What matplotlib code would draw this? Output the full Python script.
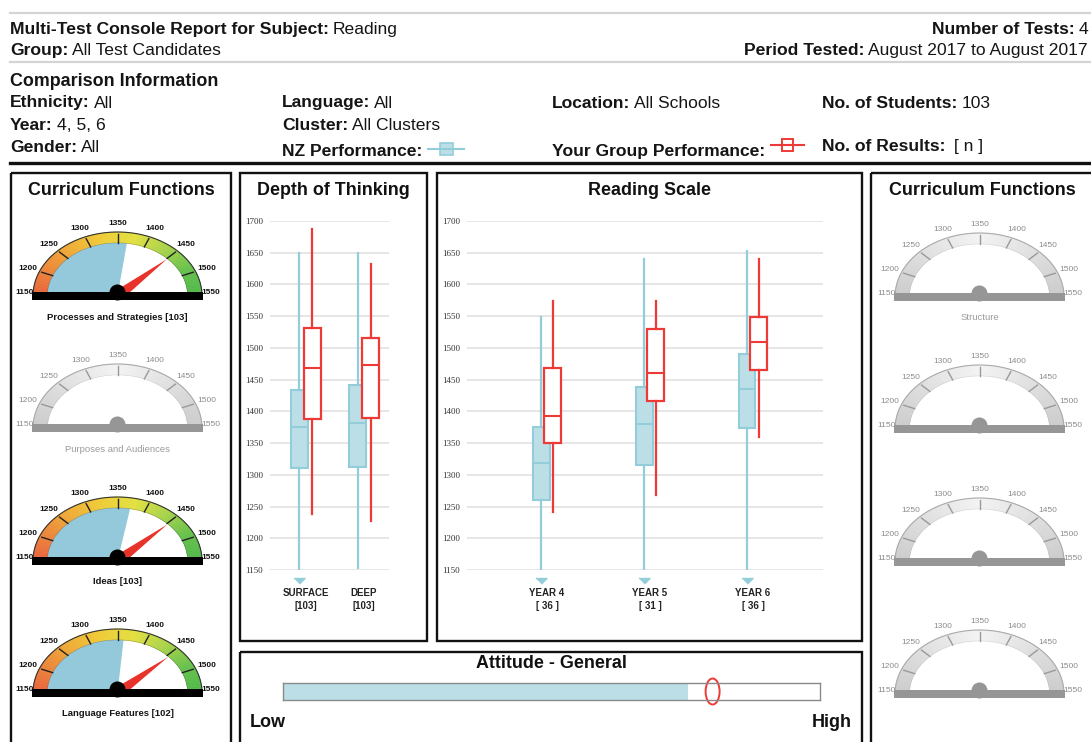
import numpy as np
import matplotlib
matplotlib.use('Agg')
import matplotlib.pyplot as plt
from matplotlib.patches import Rectangle, Wedge, Polygon, Ellipse
from matplotlib.colors import LinearSegmentedColormap

plt.rcParams['font.family'] = ['Liberation Sans', 'DejaVu Sans']

W, H = 1091, 742

# ---- report info
subject = 'Reading'
group_name = 'All Test Candidates'
number_of_tests = '4'
period_tested = 'August 2017 to August 2017'
ethnicity = 'All'
year = '4, 5, 6'
gender = 'All'
language = 'All'
cluster = 'All Clusters'
location = 'All Schools'
no_students = '103'
no_results = ' [ n ]'

# ---- Depth of Thinking (NZ = blue, group = red)
depth_labels = ['SURFACE', 'DEEP']
depth_counts = ['[103]', '[103]']
depth_nz_low = [1140, 1153]
depth_nz_q1 = [1310, 1313]
depth_nz_med = [1375, 1382]
depth_nz_q3 = [1433, 1442]
depth_nz_high = [1650, 1650]
depth_grp_low = [1238, 1227]
depth_grp_q1 = [1388, 1390]
depth_grp_med = [1468, 1473]
depth_grp_q3 = [1532, 1515]
depth_grp_high = [1688, 1632]

# ---- Reading Scale by year
year_labels = ['YEAR 4', 'YEAR 5', 'YEAR 6']
year_counts = ['[ 36 ]', '[ 31 ]', '[ 36 ]']
year_nz_low = [1140, 1140, 1140]
year_nz_q1 = [1260, 1316, 1373]
year_nz_med = [1318, 1380, 1435]
year_nz_q3 = [1375, 1438, 1490]
year_nz_high = [1549, 1640, 1653]
year_grp_low = [1242, 1268, 1359]
year_grp_q1 = [1350, 1417, 1465]
year_grp_med = [1392, 1461, 1509]
year_grp_q3 = [1468, 1530, 1548]
year_grp_high = [1574, 1574, 1640]

scale_ticks = list(range(1150, 1701, 50))

# ---- Curriculum function gauges
gauge_ticks = list(range(1150, 1551, 50))
left_functions = ['Processes and Strategies', 'Purposes and Audiences', 'Ideas', 'Language Features']
left_counts = ['[103]', '', '[103]', '[102]']
left_nz = [1367, None, 1373, 1361]
left_group = [1451, None, 1452, 1454]
right_functions = ['Structure', '', '', '']

# ---- Attitude (0 = low, 100 = high)
attitude_nz = 75.4
attitude_group = 80.0

BLUE_FILL = '#bcdfe7'
BLUE_EDGE = '#93cdd9'
RED = '#ee3a36'
HEAD = 12.6
TITLE = 12.9

fig = plt.figure(figsize=(W / 100, H / 100), dpi=100)
bg = fig.add_axes([0, 0, 1, 1])
bg.set_xlim(0, W)
bg.set_ylim(H, 0)
bg.axis('off')
renderer = fig.canvas.get_renderer()


def px_axes(x0, y0, x1, y1):
    return fig.add_axes([x0 / W, 1 - y1 / H, (x1 - x0) / W, (y1 - y0) / H])


def label_value(x, y, key, value, size=HEAD, ha='left'):
    inv = bg.transData.inverted()
    gap = size * 0.3
    if ha == 'left':
        t = bg.text(x, y, key, fontsize=size, fontweight='bold', va='baseline', color='#151515')
        x_end = inv.transform((t.get_window_extent(renderer).x1, 0))[0]
        if value:
            bg.text(x_end + gap, y, value, fontsize=size, va='baseline', color='#151515')
        return x_end
    t = bg.text(x, y, value, fontsize=size, va='baseline', ha='right', color='#151515')
    x_start = inv.transform((t.get_window_extent(renderer).x0, 0))[0]
    bg.text(x_start - gap, y, key, fontsize=size, fontweight='bold', va='baseline',
            ha='right', color='#151515')
    return x


# ---- header
for yy in (13, 62):
    bg.plot([10, W], [yy, yy], color='#d4d4d4', lw=1.6)
bg.plot([10, W], [163, 163], color='#111111', lw=2.4)

label_value(10, 34, 'Multi-Test Console Report for Subject:', subject)
label_value(10, 55, 'Group:', group_name)
label_value(1088, 34, 'Number of Tests:', number_of_tests, ha='right')
label_value(1088, 55, 'Period Tested:', period_tested, ha='right')
bg.text(10, 86, 'Comparison Information', fontsize=TITLE, fontweight='bold', va='baseline', color='#151515')
label_value(10, 107.5, 'Ethnicity:', ethnicity)
label_value(10, 130, 'Year:', year)
label_value(10, 152, 'Gender:', gender)
label_value(282, 107.5, 'Language:', language)
label_value(282, 130, 'Cluster:', cluster)
nz_end = label_value(282, 156, 'NZ Performance:', '')
label_value(552, 107.5, 'Location:', location)
grp_end = label_value(552, 156, 'Your Group Performance:', '')
label_value(822, 107.5, 'No. of Students:', no_students)
label_value(822, 151, 'No. of Results:', no_results)

# legend icons
bg.plot([nz_end + 6, nz_end + 42], [149, 149], color=BLUE_EDGE, lw=1.5)
bg.add_patch(Rectangle((nz_end + 18, 143), 13, 12, facecolor=BLUE_FILL, edgecolor=BLUE_EDGE, lw=1.2))
bg.plot([grp_end + 6, grp_end + 39], [145, 145], color=RED, lw=1.5)
bg.add_patch(Rectangle((grp_end + 17, 139), 11, 12, facecolor='white', edgecolor=RED, lw=1.4))

# ---- panel frames and titles
frames = [(11, 173, 231, 760), (240, 173, 427, 641), (437, 173, 862, 641),
          (871, 173, 1100, 760), (240, 652, 862, 760)]
for x0, y0, x1, y1 in frames:
    bg.add_patch(Rectangle((x0, y0), x1 - x0, y1 - y0, fill=False, ec='#111111', lw=1.7))
for tx, ty, title in [(121, 195, 'Curriculum Functions'), (333, 195, 'Depth of Thinking'),
                      (649, 195, 'Reading Scale'), (982, 195, 'Curriculum Functions'),
                      (551, 668, 'Attitude - General')]:
    bg.text(tx, ty, title, fontsize=TITLE, fontweight='bold', ha='center', va='baseline', color='#111111')


# ---- box plot panels
def stats(low, q1, med, q3, high):
    return [dict(whislo=a, q1=b, med=c, q3=d, whishi=e, fliers=[])
            for a, b, c, d, e in zip(low, q1, med, q3, high)]


def box_panel(ax, nz, grp, labels, counts, off, width):
    pos = np.arange(len(labels))
    ax.bxp(stats(*nz), positions=pos - off, widths=width, patch_artist=True,
           showcaps=False, showfliers=False,
           boxprops=dict(facecolor=BLUE_FILL, edgecolor=BLUE_EDGE, lw=1.5),
           whiskerprops=dict(color=BLUE_EDGE, lw=1.6),
           medianprops=dict(color=BLUE_EDGE, lw=1.5))
    ax.bxp(stats(*grp), positions=pos + off, widths=width, patch_artist=True,
           showcaps=False, showfliers=False,
           boxprops=dict(facecolor='white', edgecolor=RED, lw=1.6),
           whiskerprops=dict(color=RED, lw=1.6),
           medianprops=dict(color=RED, lw=1.5))
    below = [p - off for p, lo in zip(pos, nz[0]) if lo < scale_ticks[0]]
    ax.plot(below, [1137] * len(below), ls='none', marker=[(-1, 0), (1, 0), (0, -1)],
            ms=8, color=BLUE_EDGE, clip_on=False)
    ax.set_ylim(scale_ticks[0], scale_ticks[-1])
    ax.set_yticks(scale_ticks)
    ax.set_yticklabels([str(t) for t in scale_ticks], family='Liberation Serif',
                       fontsize=6.5, color='#333333')
    ax.set_xticks(pos, [f'{l}\n{c}' for l, c in zip(labels, counts)],
                  fontsize=7, fontweight='bold', color='#222222', linespacing=1.35)
    ax.tick_params(length=0)
    ax.tick_params(axis='y', pad=5)
    ax.tick_params(axis='x', pad=13)
    ax.grid(axis='y', color='#e2e2e2', lw=1.2)
    ax.set_axisbelow(True)
    ax.set_facecolor('none')
    for s in ax.spines.values():
        s.set_visible(False)


ax_depth = px_axes(270, 221, 389, 570)
box_panel(ax_depth,
          (depth_nz_low, depth_nz_q1, depth_nz_med, depth_nz_q3, depth_nz_high),
          (depth_grp_low, depth_grp_q1, depth_grp_med, depth_grp_q3, depth_grp_high),
          depth_labels, depth_counts, 0.112, 0.28)
ax_depth.set_xlim(-0.62, 1.43)

ax_year = px_axes(467, 221, 823, 570)
box_panel(ax_year,
          (year_nz_low, year_nz_q1, year_nz_med, year_nz_q3, year_nz_high),
          (year_grp_low, year_grp_q1, year_grp_med, year_grp_q3, year_grp_high),
          year_labels, year_counts, 0.058, 0.165)
ax_year.set_xlim(-0.777, 2.68)

# ---- gauges
color_cmap = LinearSegmentedColormap.from_list(
    'band', ['#e8613b', '#ec8538', '#efab36', '#f0cb37', '#e3e03f', '#a8d34a', '#66c14b', '#4fb849'])
gray_cmap = LinearSegmentedColormap.from_list('gray', ['#cbcbcb', '#f3f3f3', '#cbcbcb'])


def deg(v):
    return 180.0 * (1 - (v - gauge_ticks[0]) / (gauge_ticks[-1] - gauge_ticks[0]))


def gauge(cx, cy, title, count, nz, grp):
    rx, ry = 84.5, 64
    ax = px_axes(cx - 1.4 * rx, cy - 1.3 * ry, cx + 1.4 * rx, cy + 0.2 * ry)
    ax.set_xlim(-1.4, 1.4)
    ax.set_ylim(-0.2, 1.3)
    ax.axis('off')
    active = nz is not None
    cmap = color_cmap if active else gray_cmap
    inner = 0.83
    n = 120
    vals = np.linspace(gauge_ticks[0], gauge_ticks[-1], n + 1)
    for i in range(n):
        c = cmap(i / (n - 1))
        ax.add_patch(Wedge((0, 0), 1, deg(vals[i + 1]), deg(vals[i]), width=1 - inner,
                           facecolor=c, edgecolor=c, lw=0.4))
    t = np.linspace(0, np.pi, 200)
    line_c = '#333333' if active else '#aaaaaa'
    ax.plot(np.cos(t), np.sin(t), color=line_c, lw=0.8)
    ax.plot(inner * np.cos(t), inner * np.sin(t), color=line_c, lw=0.3, alpha=0.5)
    if active:
        ax.add_patch(Wedge((0, 0), inner, deg(nz), 180, facecolor='#93c9da', edgecolor='none'))
    tick_c = '#222222' if active else '#9a9a9a'
    lab_c = '#111111' if active else '#8c8c8c'
    weight = 'bold' if active else 'normal'
    for v in gauge_ticks:
        a = np.radians(deg(v))
        if gauge_ticks[0] < v < gauge_ticks[-1]:
            ax.plot([inner * np.cos(a), 0.97 * np.cos(a)], [inner * np.sin(a), 0.97 * np.sin(a)],
                    color=tick_c, lw=1.0)
            ax.text(1.15 * np.cos(a), 1.14 * np.sin(a), str(v), fontsize=6, ha='center', va='center',
                    color=lab_c, fontweight=weight)
        else:
            side = np.sign(np.cos(a))
            ax.text(0.99 * side, 0.06, str(v), fontsize=6, ha='left' if side > 0 else 'right',
                    va='center', color=lab_c, fontweight=weight)
    if active:
        a = np.radians(deg(grp))
        dx, dy = rx * np.cos(a), ry * np.sin(a)
        L = np.hypot(dx, dy)
        px_, py_ = -dy / L * 5.5, dx / L * 5.5
        ax.add_patch(Polygon([(0.82 * np.cos(a), 0.82 * np.sin(a)),
                              (px_ / rx, py_ / ry), (-px_ / rx, -py_ / ry)],
                             closed=True, facecolor='#e8332b', edgecolor='none', zorder=4))
    base_c = '#000000' if active else '#969696'
    ax.add_patch(Rectangle((-1.01, -0.055), 2.02, 0.11, facecolor=base_c, edgecolor='none', zorder=6))
    ax.add_patch(Ellipse((0, 0.055), 16 / rx, 16 / ry, facecolor=base_c, edgecolor='none', zorder=5))
    if title:
        name = f'{title} {count}' if count else title
        bg.text(cx, cy + 21, name, fontsize=6.8, ha='center', va='center',
                fontweight='bold' if active else 'normal',
                color='#151515' if active else '#9a9a9a')


gauge_rows = [296, 428, 561, 693]
for cy, title, cnt, nz, grp in zip(gauge_rows, left_functions, left_counts, left_nz, left_group):
    gauge(117.5, cy, title, cnt, nz, grp)
for cy, title in zip(gauge_rows, right_functions):
    gauge(979.5, cy + 1, title, '', None, None)

# ---- attitude bar
ax_att = px_axes(283, 683, 820, 700)
ax_att.set_xlim(0, 100)
ax_att.set_ylim(0, 1)
ax_att.barh(0.5, attitude_nz, height=1, color=BLUE_FILL, edgecolor='none')
ax_att.add_patch(Ellipse((attitude_group, 0.5), 14 / 537 * 100, 26 / 17, fill=False,
                         edgecolor=RED, lw=1.4, clip_on=False))
ax_att.set_xticks([])
ax_att.set_yticks([])
for s in ax_att.spines.values():
    s.set_color('#8a8a8a')
    s.set_linewidth(1.0)
bg.text(250, 727, 'Low', fontsize=13, fontweight='bold', va='baseline', color='#111111')
bg.text(852, 727, 'High', fontsize=13, fontweight='bold', va='baseline', ha='right', color='#111111')

fig.savefig('out.png', dpi=100)
